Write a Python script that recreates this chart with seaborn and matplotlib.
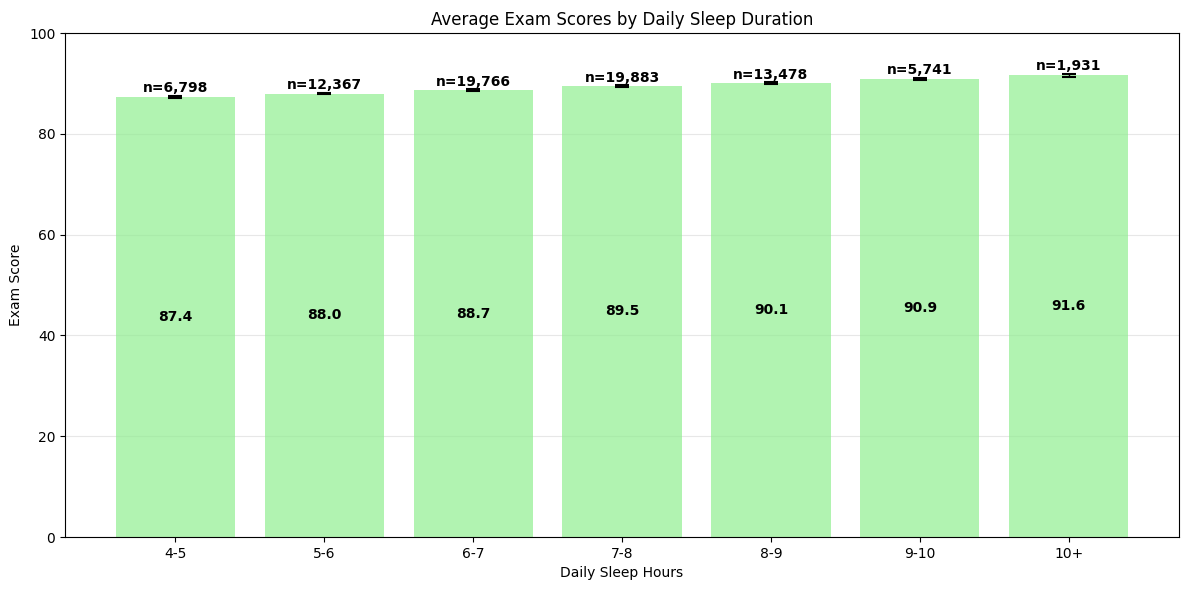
import matplotlib
matplotlib.use("Agg")
import matplotlib.pyplot as plt
import seaborn as sns
import pandas as pd

categories = ["4-5", "5-6", "6-7", "7-8", "8-9", "9-10", "10+"]
mean_scores = [87.4, 88.0, 88.7, 89.5, 90.1, 90.9, 91.6]
std_errors = [0.2, 0.15, 0.12, 0.12, 0.14, 0.2, 0.3]
counts = [6798, 12367, 19766, 19883, 13478, 5741, 1931]

df = pd.DataFrame({"sleep": categories, "score": mean_scores})

fig, ax = plt.subplots(figsize=(11.89, 5.9), dpi=100)
sns.barplot(data=df, x="sleep", y="score", color="lightgreen", alpha=0.7,
            saturation=1, width=0.8, errorbar=None, ax=ax)
ax.errorbar(range(len(categories)), mean_scores, yerr=std_errors, fmt="none",
            ecolor="black", capsize=5, elinewidth=1, capthick=1.5)

for i, (m, e, n) in enumerate(zip(mean_scores, std_errors, counts)):
    ax.text(i, m + e + 0.1, f"n={n:,}", ha="center", va="bottom", fontweight="bold", fontsize=10)
    ax.text(i, m / 2, f"{m:.1f}", ha="center", va="center", fontweight="bold", fontsize=10)

ax.set_ylim(0, 100)
ax.set_title("Average Exam Scores by Daily Sleep Duration")
ax.set_xlabel("Daily Sleep Hours")
ax.set_ylabel("Exam Score")
ax.yaxis.grid(True, alpha=0.3)
ax.set_axisbelow(True)
fig.subplots_adjust(left=0.0547, right=0.9916, top=0.944, bottom=0.0898)
fig.savefig("out.png", dpi=100)
